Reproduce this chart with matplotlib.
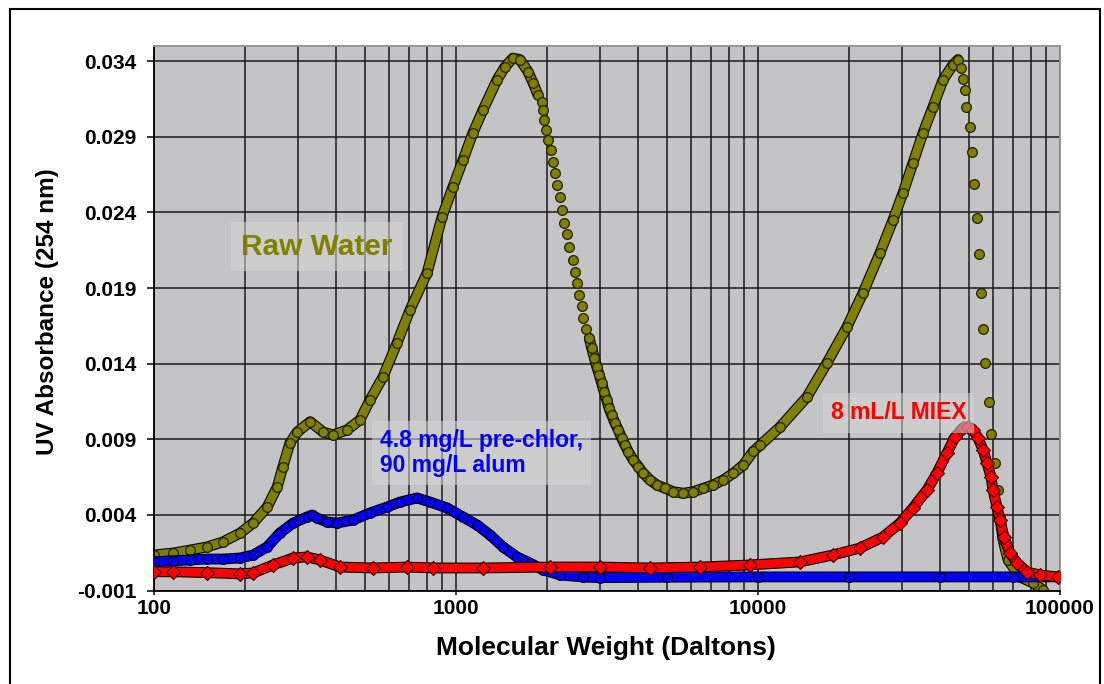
import matplotlib
matplotlib.use("Agg")
import matplotlib.pyplot as plt
import matplotlib.patheffects as pe
from matplotlib.patches import Rectangle
from matplotlib.ticker import FixedLocator, FuncFormatter, LogLocator, NullFormatter
import numpy as np

plt.rcParams['font.family'] = ['Liberation Sans', 'DejaVu Sans']
plt.rcParams['font.weight'] = 'bold'

# Raw water (olive circles)
raw_mw = [100, 116, 132, 150, 169, 193, 213, 237, 256, 267, 282, 298, 329, 363, 392, 436, 481,
          519, 573, 638, 704, 802, 899, 977, 1055, 1138, 1229, 1367, 1450, 1544, 1629, 1732,
          1799, 1868, 1922, 1937, 1956, 1986, 2021, 2059, 2091, 2128, 2165, 2210, 2249, 2284,
          2336, 2372, 2434, 2477, 2521, 2560, 2607, 2639, 2694, 2763, 2813, 2870, 2923, 2982,
          3037, 3091, 3155, 3211, 3277, 3361, 3447, 3537, 3627, 3719, 3865, 4015, 4171, 4389,
          4619, 4922, 5243, 5657, 6106, 6591, 7112, 7676, 8284, 8940, 9647, 10150, 11830,
          14530, 16920, 19710, 22270, 25350, 27990, 30210, 32600, 35190, 37970, 40990, 44230,
          45950, 47010, 47730, 48460, 49020, 50350, 51120, 51900, 53110, 53930, 54760, 55590,
          56450, 58200, 59090, 60930, 62340, 63290, 64760, 67280, 73700, 81390, 87850]
raw_abs = [0.00135, 0.00148, 0.00168, 0.00188, 0.00221, 0.00280, 0.00346, 0.00452, 0.00585,
           0.00717, 0.00876, 0.00948, 0.01016, 0.00948, 0.00928, 0.00962, 0.01028, 0.01160,
           0.01312, 0.01537, 0.01755, 0.02000, 0.02370, 0.02569, 0.02747, 0.02926, 0.03078,
           0.03276, 0.03360, 0.03420, 0.03410, 0.03330, 0.03257, 0.03177, 0.03133, 0.03078,
           0.03012, 0.02946, 0.02880, 0.02813, 0.02736, 0.02659, 0.02582, 0.02501, 0.02417,
           0.02333, 0.02256, 0.02174, 0.02086, 0.02005, 0.01932, 0.01854, 0.01782, 0.01704,
           0.01628, 0.01568, 0.01502, 0.01440, 0.01380, 0.01325, 0.01270, 0.01215, 0.01160,
           0.01105, 0.01061, 0.01006, 0.00962, 0.00907, 0.00862, 0.00818, 0.00763, 0.00719,
           0.00675, 0.00631, 0.00598, 0.00576, 0.00553, 0.00543, 0.00553, 0.00576, 0.00598,
           0.00631, 0.00675, 0.00730, 0.00820, 0.00860, 0.00981, 0.01180, 0.01405, 0.01643,
           0.01868, 0.02132, 0.02350, 0.02529, 0.02727, 0.02926, 0.03098, 0.03276, 0.03376,
           0.03410, 0.03356, 0.03283, 0.03210, 0.03095, 0.02966, 0.02800, 0.02589, 0.02364,
           0.02126, 0.01868, 0.01630, 0.01405, 0.01147, 0.00935, 0.00743, 0.00565, 0.00386,
           0.00234, 0.00102, -0.00011, -0.00050, -0.00097]

# 4.8 mg/L pre-chlor, 90 mg/L alum (blue circles)
blue_mw = [100, 116, 132, 150, 169, 193, 213, 237, 261, 289, 321, 334, 346, 374, 404, 456, 519,
           591, 653, 743, 820, 934, 1055, 1174, 1296, 1431, 1592, 1758, 1941, 2210, 2634, 3000,
           5000, 10000, 20000, 40000, 70000, 100000]
blue_abs = [0.00090, 0.00097, 0.00102, 0.00108, 0.00108, 0.00115, 0.00135, 0.00188, 0.00280,
            0.00346, 0.00386, 0.00399, 0.00380, 0.00353, 0.00346, 0.00366, 0.00413, 0.00452,
            0.00485, 0.00512, 0.00485, 0.00446, 0.00386, 0.00333, 0.00267, 0.00188, 0.00122,
            0.00082, 0.00036, 0.00003, -0.00011, -0.00015, -0.00012, -0.00010, -0.00010,
            -0.00010, -0.00010, -0.00010]

# 8 mL/L MIEX (red diamonds)
red_mw = [100, 116, 150, 193, 213, 248, 289, 321, 354, 413, 531, 688, 839, 1229, 2048, 3000,
          4389, 6427, 9408, 13780, 17720, 21760, 25940, 29530, 32600, 36280, 39140, 42250,
          44910, 47730, 49600, 51510, 53520, 55590, 57320, 59090, 59990, 61850, 63290, 65240,
          68300, 72030, 77750, 85860, 98500]
red_abs = [0.00024, 0.00024, 0.00018, 0.00010, 0.00016, 0.00069, 0.00115, 0.00122, 0.00102,
           0.00055, 0.00049, 0.00055, 0.00049, 0.00049, 0.00055, 0.00055, 0.00049, 0.00055,
           0.00069, 0.00089, 0.00135, 0.00181, 0.00254, 0.00346, 0.00446, 0.00565, 0.00677,
           0.00810, 0.00915, 0.00975, 0.00981, 0.00962, 0.00909, 0.00830, 0.00743, 0.00651,
           0.00565, 0.00452, 0.00366, 0.00254, 0.00148, 0.00082, 0.00022, 0.00003, -0.00011]

y_ticks = [-0.001, 0.004, 0.009, 0.014, 0.019, 0.024, 0.029, 0.034]
x_ticks = [100, 1000, 10000, 100000]

OLIVE = '#808000'
BLUE = '#0000ff'
RED = '#ff0000'

fig = plt.figure(figsize=(11.04, 6.84), dpi=100)
ax = fig.add_axes([154 / 1104, 93.5 / 684, 906 / 1104, 544.5 / 684])
ax.set_facecolor('#c4c4c6')


def band(x, y, color, z, mask=None):
    x = np.asarray(x, float)
    y = np.asarray(y, float)
    if mask is not None:
        y = np.where(mask, y, np.nan)
    ax.plot(x, y, color=color, lw=6.2, solid_capstyle='round', zorder=z,
            path_effects=[pe.Stroke(linewidth=7.8, foreground='black'), pe.Normal()])


# raw water: continuous band where the points overlap, single dots where they spread out
rmw = np.array(raw_mw, float)
dense = (rmw <= 1870) | ((rmw >= 2700) & (rmw <= 47000)) | (rmw >= 63000)
band(raw_mw, raw_abs, OLIVE, 2, dense)
ax.plot(raw_mw, raw_abs, 'o', ms=7.0, mfc=OLIVE, mec='#202000', mew=0.9, zorder=2.1)

band(blue_mw, blue_abs, BLUE, 3)
ax.plot(blue_mw, blue_abs, 'o', ms=7.0, mfc=BLUE, mec='#000030', mew=0.9, zorder=3.1)

band(red_mw, red_abs, RED, 4)
ax.plot(red_mw, red_abs, 'D', ms=7.2, mfc=RED, mec='#400000', mew=0.8, zorder=4.1)

ax.set_xscale('log')
ax.set_xlim(100, 100000)
ax.set_ylim(-0.001, 0.035)

ax.xaxis.set_major_locator(FixedLocator(x_ticks))
ax.xaxis.set_major_formatter(FuncFormatter(lambda v, p: f'{int(round(v))}'))
ax.xaxis.set_minor_locator(LogLocator(base=10, subs=np.arange(2, 10)))
ax.xaxis.set_minor_formatter(NullFormatter())
ax.yaxis.set_major_locator(FixedLocator(y_ticks))
ax.yaxis.set_major_formatter(FuncFormatter(lambda v, p: f'{v:.3f}'))

ax.grid(True, which='both', axis='x', color='#1a1a1a', lw=1.1, zorder=1)
ax.grid(True, which='major', axis='y', color='#1a1a1a', lw=1.1, zorder=1)
ax.set_axisbelow(True)

ax.tick_params(axis='y', which='major', length=5, width=1.1, pad=7.5, labelsize=15)
ax.tick_params(axis='x', which='major', length=3, width=1.1, pad=3, labelsize=15)
ax.tick_params(axis='x', which='minor', length=0)
for lab in ax.get_xticklabels() + ax.get_yticklabels():
    lab.set_fontweight('bold')

for s in ['left', 'bottom']:
    ax.spines[s].set_color('black')
    ax.spines[s].set_linewidth(1.3)
for s in ['top', 'right']:
    ax.spines[s].set_color('#909090')
    ax.spines[s].set_linewidth(1.3)

# series labels
box = dict(boxstyle='square,pad=0.35', facecolor='#d6d6d6', edgecolor='none', alpha=0.55)
ax.text(0.096, 0.631, 'Raw Water', transform=ax.transAxes, color=OLIVE, fontsize=21.5,
        fontweight='bold', ha='left', va='center', bbox=box, zorder=6)
ax.text(0.2494, 0.2525, '4.8 mg/L pre-chlor,\n90 mg/L alum', transform=ax.transAxes,
        color=BLUE, fontsize=16.5, fontweight='bold', ha='left', va='center',
        linespacing=1.15, bbox=box, zorder=6)
ax.text(0.747, 0.326, '8 mL/L MIEX', transform=ax.transAxes, color=RED, fontsize=16.5,
        fontweight='bold', ha='left', va='center', bbox=box, zorder=6)

# axis titles
fig.text(606 / 1104, 1 - 648 / 684, 'Molecular Weight (Daltons)', fontsize=19,
         fontweight='bold', ha='center', va='center')
fig.text(48 / 1104, 1 - 312 / 684, 'UV Absorbance (254 nm)', fontsize=17.5,
         fontweight='bold', ha='center', va='center', rotation=90)

# chart border
fig.patches.append(Rectangle((10 / 1104, -0.02), 1090 / 1104, 1 - 9 / 684 + 0.02,
                             transform=fig.transFigure, fill=False, edgecolor='black',
                             lw=1.5, zorder=10))

fig.savefig('out.png', dpi=100)
